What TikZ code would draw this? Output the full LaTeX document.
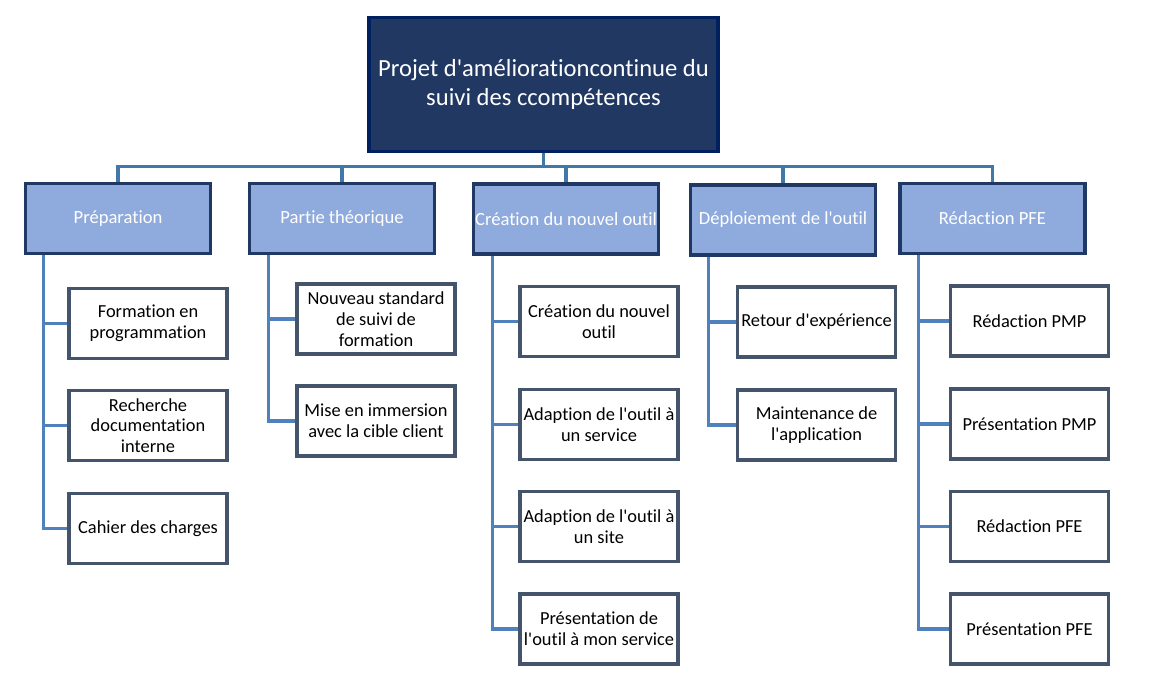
\documentclass[tikz,border=0pt]{standalone}
\usepackage{fontspec}
\setmainfont{Carlito}[Ligatures={TeXOff,NoCommon}]
\definecolor{rootfill}{RGB}{33,56,98}
\definecolor{rootdraw}{RGB}{0,32,96}
\definecolor{lvlfill}{RGB}{143,170,220}
\definecolor{lvldraw}{RGB}{31,56,100}
\definecolor{leafdraw}{RGB}{68,84,106}
\definecolor{busline}{RGB}{65,120,170}
\definecolor{subline}{RGB}{79,129,189}
\begin{document}
\begin{tikzpicture}[x=0.5pt,y=-0.5pt,
  rootbox/.style={draw=rootdraw,fill=rootfill,line width=1.8pt,minimum width=174.5pt,minimum height=67pt,
    text=white,align=center,font=\fontsize{12.3}{14.2}\selectfont,inner sep=0pt},
  lvlbox/.style={draw=lvldraw,fill=lvlfill,line width=1.8pt,minimum width=92.5pt,minimum height=35pt,
    text=white,align=center,font=\fontsize{9.3}{10.5}\selectfont,inner sep=0pt},
  leafbox/.style={draw=leafdraw,fill=white,line width=1.8pt,minimum width=79pt,minimum height=35pt,
    text=black,align=center,font=\fontsize{9.2}{10.4}\selectfont,inner sep=0pt},
  busconn/.style={draw=busline,line width=1.6pt},
  subconn/.style={draw=subline,line width=1.6pt}]
\useasboundingbox (0,0) rectangle (1157,693);
% root
\node[rootbox] (root) at (543.5,84.5) {Projet d'améliorationcontinue du\\suivi des ccompétences};
% level 1
\node[lvlbox] (prep) at (118,218.5) {Préparation};
\node[lvlbox] (theo) at (342,218.5) {Partie théorique};
\node[lvlbox] (crea) at (566,219) {Création du nouvel outil};
\node[lvlbox] (depl) at (783,220) {Déploiement de l'outil};
\node[lvlbox] (reda) at (992.5,218.5) {Rédaction PFE};
% leaves
\node[leafbox] (p1) at (148,323.5) {Formation en\\programmation};
\node[leafbox] (p2) at (148,425.5) {Recherche\\documentation\\interne};
\node[leafbox] (p3) at (148,528.5) {Cahier des charges};
\node[leafbox] (t1) at (376,319) {Nouveau standard\\de suivi de\\formation};
\node[leafbox] (t2) at (376,421) {Mise en immersion\\avec la cible client};
\node[leafbox] (c1) at (599,321.5) {Création du nouvel\\outil};
\node[leafbox] (c2) at (599,424.5) {Adaption de l'outil à\\un service};
\node[leafbox] (c3) at (599,526.5) {Adaption de l'outil à\\un site};
\node[leafbox] (c4) at (599,629) {Présentation de\\l'outil à mon service};
\node[leafbox] (d1) at (816.5,322) {Retour d'expérience};
\node[leafbox] (d2) at (816.5,425) {Maintenance de\\l'application};
\node[leafbox] (r1) at (1029.5,321) {Rédaction PMP};
\node[leafbox] (r2) at (1029.5,424) {Présentation PMP};
\node[leafbox] (r3) at (1029.5,526.5) {Rédaction PFE};
\node[leafbox] (r4) at (1029.5,629) {Présentation PFE};
% bus
\coordinate (bus) at (543.5,166.5);
\draw[busconn] (root.south) -- (root.south |- bus);
\foreach \n in {prep,theo,crea,depl,reda}{
  \draw[busconn] (root.south |- bus) -| (\n.north);
}
% trunks
\coordinate (prepT) at ([xshift=10pt]prep.south west);
\coordinate (theoT) at ([xshift=10.5pt]theo.south west);
\coordinate (creaT) at ([xshift=10.5pt]crea.south west);
\coordinate (deplT) at ([xshift=10pt]depl.south west);
\coordinate (redaT) at ([xshift=10pt]reda.south west);
\foreach \t/\l in {prepT/p1,prepT/p2,prepT/p3,theoT/t1,theoT/t2,creaT/c1,creaT/c2,creaT/c3,creaT/c4,deplT/d1,deplT/d2,redaT/r1,redaT/r2,redaT/r3,redaT/r4}{
  \draw[subconn] (\t) |- (\l.west);
}
\end{tikzpicture}
\end{document}
